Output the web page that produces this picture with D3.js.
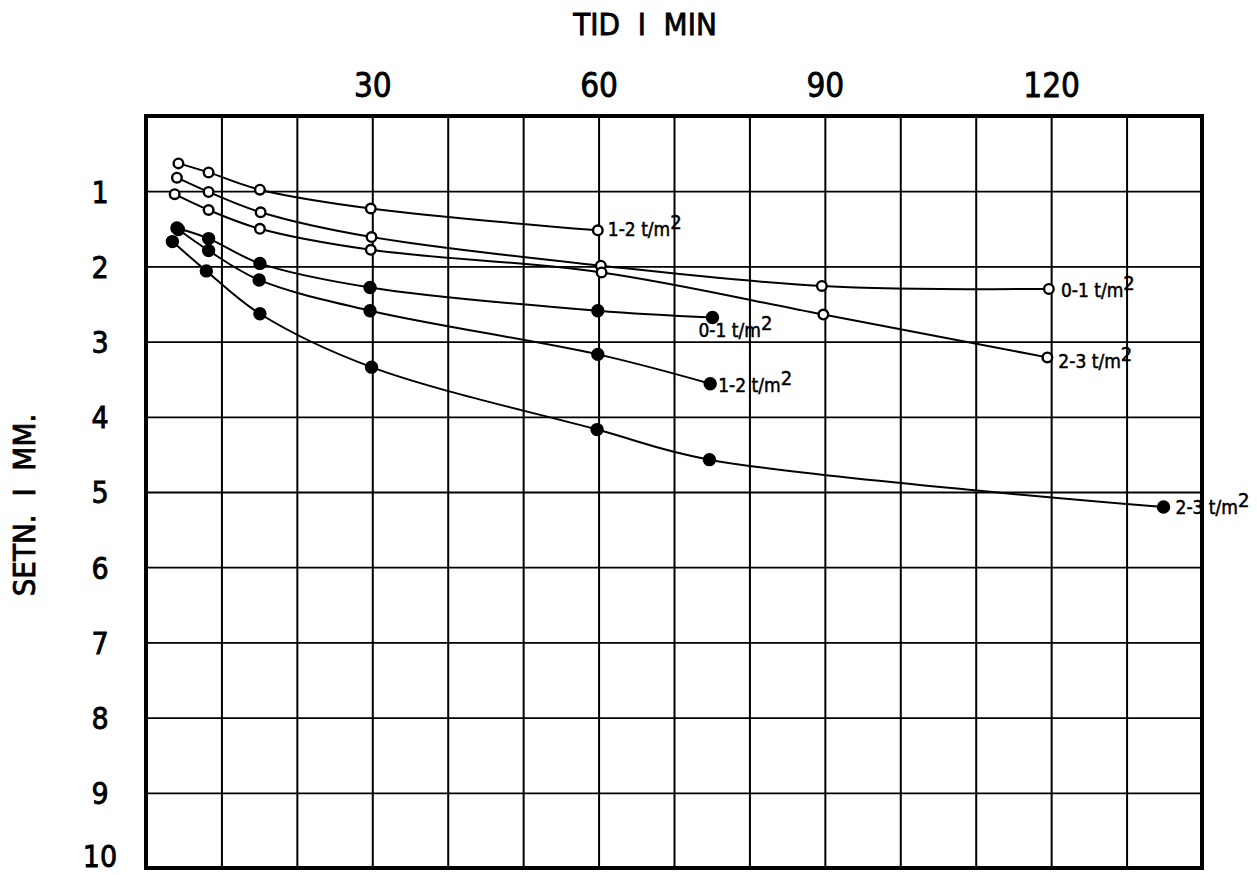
<!DOCTYPE html>
<html>
<head>
<meta charset="utf-8">
<script src="https://cdn.jsdelivr.net/npm/d3@7"></script>
<style>
  body { margin: 0; background: #fff; }
  svg { display: block; }
  text { font-family: "DejaVu Sans Condensed", "DejaVu Sans", sans-serif; fill: #000; stroke: #000; stroke-width: 0.8px; }
</style>
</head>
<body>
<div class="canva"></div>
<script>
// settlement curves, time in minutes vs settlement in mm
const seriesLabels = ["1-2", "0-1", "2-3", "0-1", "1-2", "2-3"];
const seriesFilled = [false, false, false, true, true, true];
const seriesTimes = [
    [4.3, 8.3, 15.1, 29.8, 59.9],
    [4.1, 8.3, 15.2, 29.9, 60.3, 89.6, 119.7],
    [3.8, 8.3, 15.1, 29.8, 60.4, 89.8, 119.5],
    [4.1, 8.3, 15.1, 29.7, 59.9, 75.1],
    [4.3, 8.3, 15.0, 29.7, 59.9, 74.8],
    [3.5, 8.0, 15.1, 29.9, 59.8, 74.7, 134.9]
];
const seriesSettlement = [
    [0.63, 0.75, 0.98, 1.23, 1.52],
    [0.82, 1.01, 1.28, 1.61, 1.99, 2.26, 2.30],
    [1.04, 1.25, 1.50, 1.78, 2.08, 2.64, 3.21],
    [1.49, 1.63, 1.96, 2.28, 2.59, 2.68],
    [1.51, 1.79, 2.18, 2.59, 3.17, 3.56],
    [1.67, 2.06, 2.63, 3.34, 4.17, 4.57, 5.20]
];
// label offsets from the last point of each curve
const labelDx = [10, 12, 11, -14, 8, 12];
const labelDy = [6, 8, 11, 19, 8, 7];

const xTicks = [30, 60, 90, 120];
const yTicks = [1, 2, 3, 4, 5, 6, 7, 8, 9, 10];
const xGrid = d3.range(10, 140, 10);
const yGrid = d3.range(1, 10, 1);

const svg = d3.select(".canva").append("svg")
    .attr("width", 1257)
    .attr("height", 875);

const x = d3.scaleLinear().domain([0, 140]).range([146, 1202]);
const y = d3.scaleLinear().domain([0, 10]).range([116, 868]);

// grid
svg.append("g")
    .attr("transform", "translate(0," + y(10) + ")")
    .call(d3.axisBottom(x).tickValues(xGrid).tickSize(y(0) - y(10)).tickFormat(""))
    .call(g => g.select(".domain").remove())
    .selectAll("line").attr("stroke", "#000").attr("stroke-width", 2);

svg.append("g")
    .attr("transform", "translate(" + x(0) + ",0)")
    .call(d3.axisRight(y).tickValues(yGrid).tickSize(x(140) - x(0)).tickFormat(""))
    .call(g => g.select(".domain").remove())
    .selectAll("line").attr("stroke", "#000").attr("stroke-width", 1.8);

// tick labels
const xAxis = svg.append("g")
    .attr("transform", "translate(0,97)")
    .call(d3.axisTop(x).tickValues(xTicks).tickSize(0).tickPadding(0));
xAxis.select(".domain").remove();
xAxis.selectAll("text").attr("font-size", 33).attr("font-family", null).attr("fill", null);

const yAxis = svg.append("g")
    .attr("transform", "translate(100,0)")
    .call(d3.axisLeft(y).tickValues(yTicks).tickSize(0).tickPadding(0));
yAxis.select(".domain").remove();
yAxis.selectAll("text")
    .attr("font-size", 30)
    .attr("font-family", null)
    .attr("fill", null)
    .attr("text-anchor", "middle")
    .attr("x", 0)
    .attr("dy", d => d === 10 ? "-0.05em" : "0.36em"); // keep bottom label inside the page

// axis titles
svg.append("text")
    .attr("x", 645)
    .attr("y", 35)
    .attr("text-anchor", "middle")
    .attr("font-size", 31)
    .style("white-space", "pre")
    .text("TID  I  MIN");

svg.append("text")
    .attr("transform", "translate(35,505) rotate(-90)")
    .attr("text-anchor", "middle")
    .attr("font-size", 31)
    .style("white-space", "pre")
    .text("SETN.  I  MM.");

// curves
const line = d3.line()
    .x(d => x(d[0]))
    .y(d => y(d[1]))
    .curve(d3.curveCatmullRom.alpha(0.5));

seriesTimes.forEach((times, i) => {
    const pts = times.map((t, j) => [t, seriesSettlement[i][j]]);

    svg.append("path")
        .datum(pts)
        .attr("d", line)
        .attr("fill", "none")
        .attr("stroke", "#000")
        .attr("stroke-width", 2);

    svg.append("g").selectAll("circle")
        .data(pts)
        .join("circle")
        .attr("cx", d => x(d[0]))
        .attr("cy", d => y(d[1]))
        .attr("r", seriesFilled[i] ? 5.5 : 4.8)
        .attr("fill", seriesFilled[i] ? "#000" : "#fff")
        .attr("stroke", "#000")
        .attr("stroke-width", 2.4);

    const last = pts[pts.length - 1];
    const lbl = svg.append("text")
        .attr("x", x(last[0]) + labelDx[i])
        .attr("y", y(last[1]) + labelDy[i])
        .attr("font-size", 19)
        .style("stroke-width", "0.5px")
        .style("white-space", "pre");
    lbl.append("tspan").text(seriesLabels[i] + " t/m");
    lbl.append("tspan").attr("dy", -7).attr("font-size", 20).text("2");
});

// frame
svg.append("rect")
    .attr("x", x(0))
    .attr("y", y(0))
    .attr("width", x(140) - x(0))
    .attr("height", y(10) - y(0))
    .attr("fill", "none")
    .attr("stroke", "#000")
    .attr("stroke-width", 4);
</script>
</body>
</html>
